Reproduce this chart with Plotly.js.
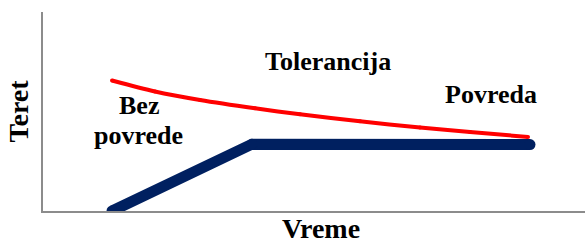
<!DOCTYPE html>
<html>
<head>
<meta charset="utf-8">
<script src="https://cdn.plot.ly/plotly-3.0.1.min.js"></script>
<style>html,body{margin:0;padding:0;background:#fff;overflow:hidden;width:585px;height:244px;}#chart{width:599px;height:244px;}</style>
</head>
<body>
<div id="chart"></div>
<script>
// Tolerance curve (red)
var tolX = [12.41, 20.14, 28.24, 38.13, 46.22, 57.01, 67.81, 76.80, 87.23];
var tolY = [65.58, 60.05, 55.78, 51.61, 48.59, 45.08, 41.96, 39.70, 37.19];
// Load curve (navy)
var loadX = [12.41, 37.59, 87.59];
var loadY = [0, 33.6, 33.4];
var labels = ["Tolerancija", "Bez", "povrede", "Povreda"];
var xTitle = "Vreme";
var yTitle = "Teret";

var fontFam = "Liberation Serif";

var traces = [
  {x: tolX, y: tolY, mode: "lines+markers", line: {color: "#ff0000", width: 4, shape: "spline", smoothing: 0.8},
   marker: {color: "#ff0000", size: 4}, hoverinfo: "skip"},
  {x: loadX, y: loadY, mode: "lines+markers", line: {color: "#002060", width: 11},
   marker: {color: "#002060", size: 11}, hoverinfo: "skip"}
];

function ann(text, px, py, size) {
  return {text: text, xref: "paper", yref: "paper",
    x: (px - 43) / 556, y: (211 - py) / 199, xanchor: "center", yanchor: "middle",
    showarrow: false, font: {family: fontFam, size: size, color: "#000", weight: "bold"}};
}

var layout = {
  width: 599, height: 244,
  margin: {l: 43, r: 0, t: 12, b: 33},
  paper_bgcolor: "#fff", plot_bgcolor: "#fff",
  showlegend: false,
  xaxis: {range: [0, 100], showgrid: false, zeroline: false, showticklabels: false, ticks: "",
    showline: true, linecolor: "#8c8c8c", linewidth: 2,
    title: {text: xTitle, font: {family: fontFam, size: 28, color: "#000", weight: "bold"}, standoff: 7}},
  yaxis: {range: [0, 100], showgrid: false, zeroline: false, showticklabels: false, ticks: "",
    showline: true, linecolor: "#8c8c8c", linewidth: 2,
    title: {text: yTitle, font: {family: fontFam, size: 28, color: "#000", weight: "bold"}, standoff: 4}},
  annotations: [
    ann(labels[0], 328, 62, 26),
    ann(labels[1], 138.5, 105, 26),
    ann(labels[2], 138.5, 135, 26),
    ann(labels[3], 491, 94, 26)
  ]
};

Plotly.newPlot("chart", traces, layout, {displayModeBar: false, staticPlot: true});
</script>
</body>
</html>
